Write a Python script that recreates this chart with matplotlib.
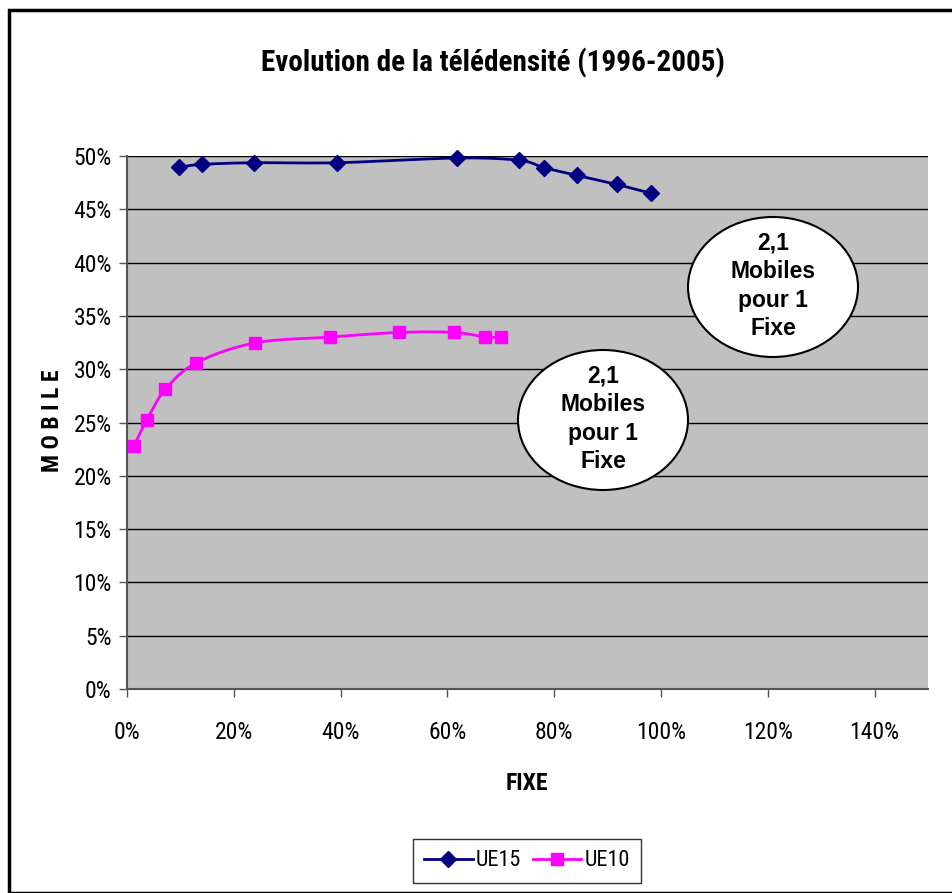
import numpy as np
import matplotlib
matplotlib.use("Agg")
import matplotlib.pyplot as plt
from matplotlib import font_manager
from matplotlib.patches import Ellipse, Rectangle
from matplotlib.ticker import FuncFormatter, MultipleLocator

ttf = font_manager.fontManager.ttflist
names = sorted({f.name for f in ttf})
pref = ['Liberation Sans Narrow', 'Arial Narrow', 'Roboto Condensed', 'Open Sans Condensed']
narrow = [n for n in pref if n in names] + [n for n in names if ('Narrow' in n or 'Condensed' in n)]
reg_fam = narrow[:1] + ['Liberation Sans', 'DejaVu Sans']
bold_narrow = [n for n in narrow if any(f.name == n and (f.weight in ('bold', 700) or str(f.weight) in ('700', 'bold')) for f in ttf)]
bold_fam = bold_narrow[:1] + ['Liberation Sans', 'DejaVu Sans']
plt.rcParams['font.family'] = reg_fam

title = "Evolution de la télédensité (1996-2005)"
ue15_fixe = [9.7, 14.0, 23.7, 39.4, 61.8, 73.5, 78.1, 84.3, 91.7, 98.1]
ue15_mobile = [48.96, 49.21, 49.37, 49.37, 49.81, 49.59, 48.90, 48.18, 47.33, 46.51]
ue10_fixe = [1.3, 3.7, 7.2, 13.0, 23.9, 38.1, 51.0, 61.3, 67.1, 70.1]
ue10_mobile = [22.79, 25.24, 28.12, 30.6, 32.46, 33.02, 33.45, 33.45, 33.02, 33.02]
bubble_text = "2,1\nMobiles\npour 1\nFixe"


def smooth(x, y, n=20):
    x = np.asarray(x, float); y = np.asarray(y, float)
    px = np.concatenate([[2 * x[0] - x[1]], x, [2 * x[-1] - x[-2]]])
    py = np.concatenate([[2 * y[0] - y[1]], y, [2 * y[-1] - y[-2]]])
    ox, oy = [], []
    t = np.linspace(0, 1, n, endpoint=False)
    for i in range(1, len(px) - 2):
        p0, p1, p2, p3 = (np.array([px[j], py[j]]) for j in range(i - 1, i + 3))
        c1 = p1 + (p2 - p0) / 6
        c2 = p2 - (p3 - p1) / 6
        b = ((1 - t) ** 3)[:, None] * p1 + (3 * (1 - t) ** 2 * t)[:, None] * c1 \
            + (3 * (1 - t) * t ** 2)[:, None] * c2 + (t ** 3)[:, None] * p2
        ox.extend(b[:, 0]); oy.extend(b[:, 1])
    ox.append(x[-1]); oy.append(y[-1])
    return np.array(ox), np.array(oy)


fig = plt.figure(figsize=(9.53, 8.93), dpi=100)
W, H = 953, 893
ax = fig.add_axes([127 / W, 1 - 689 / H, (928 - 127) / W, (689 - 156) / H])
ax.set_facecolor('#c0c0c0')
ax.set_xlim(0, 150)
ax.set_ylim(0, 50)
ax.xaxis.set_major_locator(MultipleLocator(20))
ax.yaxis.set_major_locator(MultipleLocator(5))
ax.xaxis.set_major_formatter(FuncFormatter(lambda v, p: f"{v:.0f}%" if v <= 140 else ""))
ax.yaxis.set_major_formatter(FuncFormatter(lambda v, p: f"{v:.0f}%"))
ax.grid(axis='y', color='black', lw=1)
ax.set_axisbelow(True)
for s in ['top', 'right']:
    ax.spines[s].set_visible(False)
for s in ['left', 'bottom']:
    ax.spines[s].set_color('#555555')
    ax.spines[s].set_linewidth(1.5)
ax.tick_params(labelsize=17, length=6, width=1, color='#555555')
ax.tick_params(axis='x', pad=17)
ax.tick_params(axis='y', pad=5)

sx, sy = smooth(ue15_fixe, ue15_mobile)
ax.plot(sx, sy, color='#000080', lw=2, clip_on=False)
ax.plot(ue15_fixe, ue15_mobile, ls='none', marker='D', ms=8, color='#000080', clip_on=False)
sx, sy = smooth(ue10_fixe, ue10_mobile)
ax.plot(sx, sy, color='#ff00ff', lw=2, clip_on=False)
ax.plot(ue10_fixe, ue10_mobile, ls='none', marker='s', ms=8, color='#ff00ff', clip_on=False)

l1, = ax.plot([], [], color='#000080', lw=2, marker='D', ms=8, label='UE15')
l2, = ax.plot([], [], color='#ff00ff', lw=2, marker='s', ms=8, label='UE10')
leg = fig.legend(handles=[l1, l2], loc='center', bbox_to_anchor=(527 / W, 1 - 861 / H),
                 ncol=2, frameon=True, fancybox=False, edgecolor='black', fontsize=16,
                 handlelength=2.2, handletextpad=0.15, columnspacing=0.5, borderpad=0.5)
leg.get_frame().set_linewidth(1)

for cx, cy in [(773, 287), (603, 420)]:
    e = Ellipse((cx / W, 1 - cy / H), 170 / W, 140 / H, transform=fig.transFigure,
                facecolor='white', edgecolor='black', lw=1.5, zorder=5)
    fig.add_artist(e)
    fig.text(cx / W, 1 - (cy - 1) / H, bubble_text, ha='center', va='center', fontsize=16.5,
             fontweight='bold', family=['Liberation Sans', 'DejaVu Sans'],
             linespacing=1.3, zorder=6)

fig.text(493 / W, 1 - 63 / H, title, ha='center', va='center', fontsize=21, fontweight='bold',
         family=bold_fam)
fig.text(527 / W, 1 - 783 / H, "FIXE", ha='center', va='center', fontsize=17,
         fontweight='bold', family=bold_fam)
fig.text(53 / W, 1 - 421 / H, "M O B I L E", ha='center', va='center', rotation=90,
         fontsize=17, fontweight='bold', family=bold_fam)

fig.add_artist(Rectangle((9 / W, 0), 1, 1 - 10 / H, transform=fig.transFigure,
                         fill=False, edgecolor='black', lw=2.5))

fig.savefig('out.png', dpi=100)
